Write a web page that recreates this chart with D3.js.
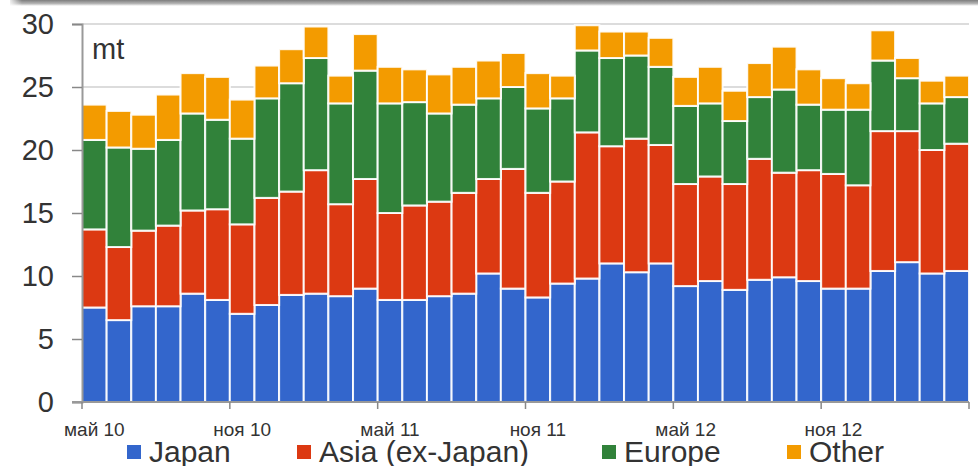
<!DOCTYPE html>
<html>
<head>
<meta charset="utf-8">
<script src="https://cdn.jsdelivr.net/npm/d3@7"></script>
<style>
  body { margin: 0; background: #fff; }
  svg { display: block; font-family: 'Liberation Sans', Arial, sans-serif; }
</style>
</head>
<body>
<div class="canvas"></div>
<script>
// months May 2010 .. Apr 2013
const months = d3.range(36).map(i => new Date(2010, 4 + i, 1))

const japan = [7.5,6.5,7.6,7.6,8.6,8.1,7.0,7.7,8.5,8.6, 8.4,9.0,8.1,8.1,8.4,8.6,10.2,9.0,8.3,9.4,
               9.8,11.0,10.3,11.0,9.2,9.6,8.9,9.7,9.9,9.6, 9.0,9.0,10.4,11.1,10.2,10.4]
const asia  = [6.2,5.8,6.0,6.4,6.6,7.2,7.1,8.5,8.2,9.8, 7.3,8.7,6.9,7.5,7.5,8.0,7.5,9.5,8.3,8.1,
               11.6,9.3,10.6,9.4,8.1,8.3,8.4,9.6,8.3,8.8, 9.1,8.2,11.1,10.4,9.8,10.1]
const europe = [7.1,7.9,6.5,6.8,7.7,7.1,6.8,7.9,8.6,8.9, 8.0,8.6,8.7,8.2,7.0,7.0,6.4,6.5,6.7,6.6,
                6.5,7.0,6.6,6.2,6.2,5.8,5.0,4.9,6.6,5.2, 5.1,6.0,5.6,4.2,3.7,3.7]
const other = [2.8,2.9,2.7,3.6,3.2,3.4,3.1,2.6,2.7,2.5, 2.2,2.9,2.9,2.6,3.1,3.0,3.0,2.7,2.8,1.8,
               2.0,2.1,1.9,2.3,2.3,2.9,2.4,2.7,3.4,2.8, 2.5,2.1,2.4,1.6,1.8,1.7]

const seriesNames = ['Japan', 'Asia (ex-Japan)', 'Europe', 'Other']
const seriesKeys = ['japan', 'asia', 'europe', 'other']
const colors = ['#3366cc', '#dc3912', '#31823a', '#f39b00']
const yTicks = [0, 5, 10, 15, 20, 25, 30]
const tickMonths = [0, 6, 12, 18, 24, 30]   // indexes of labelled months
const monthNames = ['янв','фев','мар','апр','май','июн','июл','авг','сен','окт','ноя','дек']

const W = 978, H = 466
const margin = {top: 24, right: 9, bottom: 64, left: 82}
const graphWidth = W - margin.left - margin.right
const graphHeight = H - margin.top - margin.bottom

const svg = d3.select('.canvas')
              .append('svg')
              .attr('width', W)
              .attr('height', H)

// grey shadow strip at top of the screenshot
const defs = svg.append('defs')
const grad = defs.append('linearGradient').attr('id', 'shade')
                 .attr('x1', 0).attr('y1', 0).attr('x2', 0).attr('y2', 1)
grad.append('stop').attr('offset', '0%').attr('stop-color', '#7d7d7d')
grad.append('stop').attr('offset', '60%').attr('stop-color', '#b5b5b5')
grad.append('stop').attr('offset', '100%').attr('stop-color', '#fff')
const gradL = defs.append('linearGradient').attr('id', 'shadeL')
gradL.append('stop').attr('offset', '0%').attr('stop-color', '#fff').attr('stop-opacity', 1)
gradL.append('stop').attr('offset', '100%').attr('stop-color', '#fff').attr('stop-opacity', 0)
svg.append('rect').attr('x', 10).attr('y', 0).attr('width', W - 10).attr('height', 6)
   .attr('fill', 'url(#shade)')
svg.append('rect').attr('x', 8).attr('y', 0).attr('width', 14).attr('height', 6)
   .attr('fill', 'url(#shadeL)')

const graph = svg.append('g')
                 .attr('transform', `translate(${margin.left}, ${margin.top})`)

// scales
const xScale = d3.scaleBand()
                 .domain(d3.range(months.length))
                 .range([0, graphWidth])
                 .padding(0)
const yScale = d3.scaleLinear()
                 .domain([0, 30])
                 .range([graphHeight, 0])

// gridlines
graph.append('g')
     .selectAll('line')
     .data(yTicks.filter(d => d > 0))
     .enter().append('line')
     .attr('x1', 0)
     .attr('x2', graphWidth)
     .attr('y1', d => yScale(d))
     .attr('y2', d => yScale(d))
     .attr('stroke', '#dcdcdc')
     .attr('stroke-width', 2)

// stacked data
const rows = months.map((m, i) => ({
    i, japan: japan[i], asia: asia[i], europe: europe[i], other: other[i]
}))
const stacked = d3.stack().keys(seriesKeys)(rows)

graph.append('g')
     .selectAll('g')
     .data(stacked)
     .enter().append('g')
     .attr('fill', (d, k) => colors[k])
     .selectAll('rect')
     .data(d => d)
     .enter().append('rect')
     .attr('x', d => xScale(d.data.i))
     .attr('width', xScale.bandwidth())
     .attr('y', d => yScale(d[1]))
     .attr('height', d => yScale(d[0]) - yScale(d[1]))
     .attr('stroke', '#fff')
     .attr('stroke-opacity', 0.9)
     .attr('stroke-width', 2)

// y axis
const yAxis = d3.axisLeft(yScale)
                .tickValues(yTicks)
                .tickSize(10)
                .tickPadding(18)
const yAxisGroup = graph.append('g').call(yAxis)
yAxisGroup.select('.domain').attr('stroke', '#999').attr('stroke-width', 2)
yAxisGroup.selectAll('.tick line').attr('stroke', '#888').attr('stroke-width', 1.5)
yAxisGroup.selectAll('text')
          .attr('font-size', 29)
          .attr('fill', '#333')
          .attr('font-family', "'Liberation Sans', Arial, sans-serif")

// x axis: ticks on month boundaries every 6 months, labels on first bar
const xAxisGroup = graph.append('g').attr('transform', `translate(0, ${graphHeight})`)
xAxisGroup.append('line')
          .attr('x1', -10).attr('x2', graphWidth)
          .attr('y1', 0).attr('y2', 0)
          .attr('stroke', '#999').attr('stroke-width', 2)
xAxisGroup.selectAll('line.tk')
          .data(tickMonths.concat([months.length]))
          .enter().append('line')
          .attr('class', 'tk')
          .attr('x1', d => d < months.length ? xScale(d) : graphWidth)
          .attr('x2', d => d < months.length ? xScale(d) : graphWidth)
          .attr('y1', 0).attr('y2', 7)
          .attr('stroke', '#888').attr('stroke-width', 1.5)
xAxisGroup.selectAll('text')
          .data(tickMonths)
          .enter().append('text')
          .attr('x', d => xScale(d) + xScale.bandwidth() / 2)
          .attr('y', 34)
          .attr('text-anchor', 'middle')
          .attr('font-size', 19)
          .attr('fill', '#333')
          .text(d => monthNames[months[d].getMonth()] + ' ' + String(months[d].getFullYear()).slice(2))

// unit label
graph.append('text')
     .attr('x', 10)
     .attr('y', 35)
     .attr('font-size', 29)
     .attr('fill', '#333')
     .text('mt')

// legend
const legendX = [127, 297, 602, 787]
const legend = svg.append('g')
                  .selectAll('g')
                  .data(seriesNames)
                  .enter().append('g')
                  .attr('transform', (d, k) => `translate(${legendX[k]}, 445)`)
legend.append('rect')
      .attr('width', 14).attr('height', 14)
      .attr('fill', (d, k) => colors[k])
legend.append('text')
      .attr('x', 22)
      .attr('y', 16.5)
      .attr('font-size', 30)
      .attr('fill', '#333')
      .text(d => d)
</script>
</body>
</html>
